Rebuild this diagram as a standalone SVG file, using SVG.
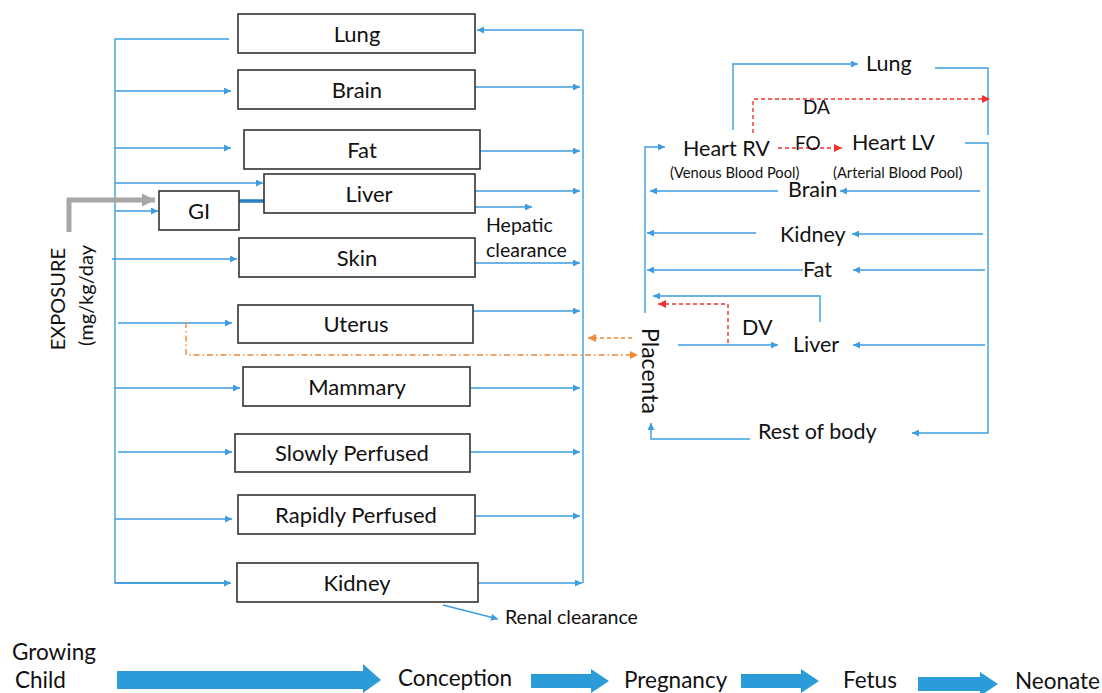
<svg xmlns="http://www.w3.org/2000/svg" width="1102" height="693" viewBox="0 0 1102 693">
<style>
text{font-family:Lato,"Open Sans","Liberation Sans",sans-serif;fill:#111}
.box rect{fill:#fff;stroke:#333;stroke-width:1.6}
.box text{font-size:22px;text-anchor:middle}
.l{fill:none;stroke:#3d9de0;stroke-width:1.4}
.la{fill:none;stroke:#3d9de0;stroke-width:1.4;marker-end:url(#a)}
.red{fill:none;stroke:#f03030;stroke-width:1.4;stroke-dasharray:4 3;marker-end:url(#ar)}
.or{fill:none;stroke:#f5893a;stroke-width:1.4;marker-end:url(#ao)}
.t20{font-size:20px}
.r{font-size:21.5px}
.t13{font-size:14.7px}
.tl{font-size:22.5px}
.s{font-size:19.5px}
.big{fill:#2b9cd8}
</style>
<defs>
<marker id="a" viewBox="0 0 10 10" refX="10" refY="5" markerWidth="8" markerHeight="7" markerUnits="userSpaceOnUse" orient="auto"><path d="M0,0L10,5L0,10z" fill="#3d9de0"/></marker>
<marker id="ar" viewBox="0 0 10 10" refX="10" refY="5" markerWidth="9" markerHeight="8" markerUnits="userSpaceOnUse" orient="auto"><path d="M0,0L10,5L0,10z" fill="#f03030"/></marker>
<marker id="ao" viewBox="0 0 10 10" refX="10" refY="5" markerWidth="9" markerHeight="8" markerUnits="userSpaceOnUse" orient="auto"><path d="M0,0L10,5L0,10z" fill="#f5893a"/></marker>
<marker id="ag" viewBox="0 0 10 10" refX="10" refY="5" markerWidth="13" markerHeight="14" markerUnits="userSpaceOnUse" orient="auto"><path d="M0,0L10,5L0,10z" fill="#a6a6a6"/></marker>
</defs>

<g id="connectors">
<path class="l" d="M229,39H115V583H230"/>
<path class="la" d="M115,583H231"/>
<path class="la" d="M115,91H231"/>
<path class="la" d="M115,148H231"/>
<path class="la" d="M115,183H263"/>
<path class="la" d="M115,211H158"/>
<path class="la" d="M112,259H237"/>
<path class="la" d="M118,323H232"/>
<path class="la" d="M115,388H240"/>
<path class="la" d="M118,452H232"/>
<path class="la" d="M115,519H232"/>
<path d="M69,232V200H155" fill="none" stroke="#a6a6a6" stroke-width="5" marker-end="url(#ag)"/>
<path d="M239,201H264" stroke="#2a7fc0" stroke-width="3.5" fill="none"/>
<path class="l" d="M583,30V583"/>
<path class="la" d="M583,30H477"/>
<path class="la" d="M475,87H580"/>
<path class="la" d="M474,151H580"/>
<path class="la" d="M475,191H580"/>
<path class="la" d="M475,207H532"/>
<path class="la" d="M475,263H580"/>
<path class="la" d="M473,311H580"/>
<path class="la" d="M470,388H580"/>
<path class="la" d="M470,452H580"/>
<path class="la" d="M475,516H580"/>
<path class="la" d="M478,583H582"/>
<path class="la" d="M443,605L498,619"/>
<path class="or" d="M186,322V355H638" stroke-dasharray="6 3 1.5 3"/>
<path class="or" d="M632,338H588" stroke-dasharray="4 3"/>
<path class="la" d="M645,313V147H665"/>
<path class="la" d="M733,130V64H858"/>
<path class="l" d="M935,68H988V135"/>
<path class="red" d="M753,133V99H990"/>
<path class="red" d="M778,148H842"/>
<path class="la" d="M965,143H988V433H912"/>
<path class="la" d="M980,191H840"/>
<path class="la" d="M778,191H650"/>
<path class="la" d="M983,234H852"/>
<path class="la" d="M756,233H647"/>
<path class="la" d="M985,270H853"/>
<path class="la" d="M803,270H647"/>
<path class="la" d="M820,322V296H653"/>
<path class="red" d="M728,343V304H658"/>
<path class="la" d="M678,345H778"/>
<path class="la" d="M985,345H853"/>
<path class="la" d="M750,439H651V423"/>
</g>

<g id="node-lung" class="box"><rect x="238" y="14" width="237" height="39"/><text x="357" y="41.5">Lung</text></g>
<g id="node-brain" class="box"><rect x="238" y="70" width="237" height="39"/><text x="357" y="97.5">Brain</text></g>
<g id="node-fat" class="box"><rect x="244" y="130" width="236" height="39"/><text x="362" y="157.5">Fat</text></g>
<g id="node-liver" class="box"><rect x="264" y="174" width="211" height="39"/><text x="369" y="201.5">Liver</text></g>
<g id="node-gi" class="box"><rect x="159" y="191" width="80" height="39"/><text x="199" y="218.5">GI</text></g>
<g id="node-skin" class="box"><rect x="239" y="238" width="236" height="39"/><text x="357" y="265.5">Skin</text></g>
<g id="node-uterus" class="box"><rect x="238" y="305" width="235" height="38"/><text x="356" y="331.5">Uterus</text></g>
<g id="node-mammary" class="box"><rect x="243" y="367" width="227" height="39"/><text x="357" y="394.5">Mammary</text></g>
<g id="node-slowly" class="box"><rect x="235" y="434" width="235" height="38"/><text x="352" y="460.5">Slowly Perfused</text></g>
<g id="node-rapidly" class="box"><rect x="238" y="495" width="237" height="39"/><text x="356" y="522.5">Rapidly Perfused</text></g>
<g id="node-kidney" class="box"><rect x="237" y="563" width="241" height="39"/><text x="357" y="590.5">Kidney</text></g>

<g id="labels-left">
<text class="t20" transform="translate(65,248) rotate(-90)" text-anchor="end">EXPOSURE</text>
<text class="t20" transform="translate(93,245) rotate(-90)" text-anchor="end">(mg/kg/day</text>
<text class="s" x="486" y="232">Hepatic</text>
<text class="s" x="486" y="257">clearance</text>
<text class="s" x="505" y="624">Renal clearance</text>
</g>

<g id="node-placenta"><text transform="translate(642,328) rotate(90)" font-size="23">Placenta</text></g>
<g id="node-f-lung"><text class="r" x="866" y="71">Lung</text></g>
<g id="node-heart-rv"><text class="r" x="683" y="156">Heart RV</text><text class="t13" x="670" y="178">(Venous Blood Pool)</text></g>
<g id="node-heart-lv"><text class="r" x="852" y="150">Heart LV</text><text class="t13" x="833" y="178">(Arterial Blood Pool)</text></g>
<g id="label-da"><text x="803" y="114" font-size="19">DA</text></g>
<g id="label-fo"><text x="795" y="150" font-size="19">FO</text></g>
<g id="node-f-brain"><text class="r" x="788" y="197">Brain</text></g>
<g id="node-f-kidney"><text class="r" x="780" y="242">Kidney</text></g>
<g id="node-f-fat"><text class="r" x="803" y="277">Fat</text></g>
<g id="label-dv"><text class="r" x="742" y="335">DV</text></g>
<g id="node-f-liver"><text class="r" x="793" y="352">Liver</text></g>
<g id="node-rest"><text class="r" x="758" y="439">Rest of body</text></g>

<g id="timeline">
<text class="tl" x="12" y="660">Growing</text>
<text class="tl" x="15" y="688">Child</text>
<path class="big" d="M117,671H363V664L381,680L363,693V689H117Z"/>
<text class="tl" x="398" y="686">Conception</text>
<path class="big" d="M531,674H591V669L609,681L591,693V688H531Z"/>
<text class="tl" x="624" y="688">Pregnancy</text>
<path class="big" d="M741,674H801V669L819,681L801,693V688H741Z"/>
<text class="tl" x="843" y="688">Fetus</text>
<path class="big" d="M918,677H980V672L998,684L980,696V691H918Z"/>
<text class="tl" x="1015" y="689">Neonate</text>
</g>
</svg>
